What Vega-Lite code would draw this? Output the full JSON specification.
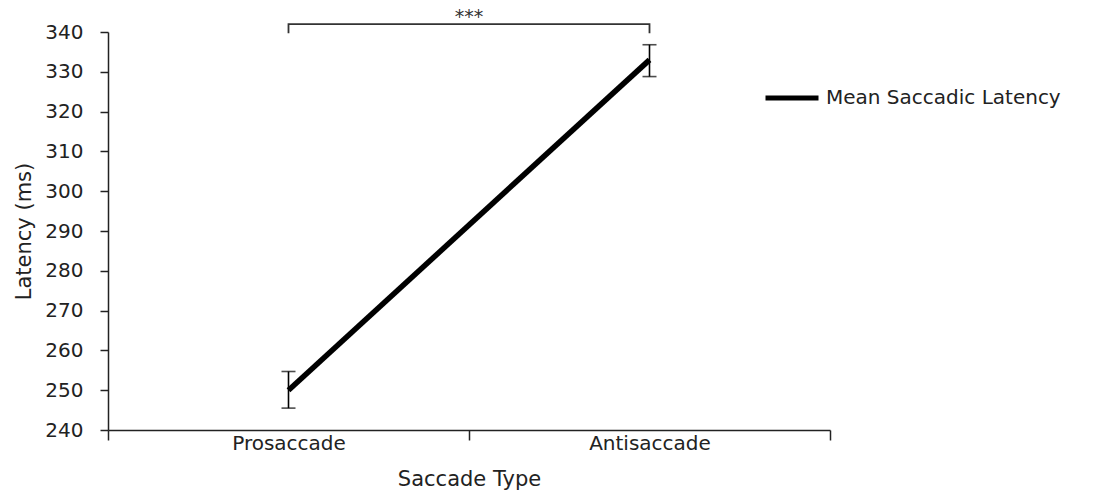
{
  "$schema": "https://vega.github.io/schema/vega-lite/v6.json",
  "width": 722,
  "height": 398,
  "autosize": {"type": "none"},
  "padding": {"left": 108, "top": 32, "right": 268, "bottom": 64},
  "background": "white",
  "title": {"text": "***", "fontSize": 19, "font": "DejaVu Sans", "fontWeight": "normal", "color": "#333", "offset": -7, "anchor": "middle"},
  "config": {
    "view": {"stroke": null},
    "font": "DejaVu Sans",
    "axis": {"domainColor": "#222", "domainWidth": 1.5, "tickColor": "#222", "tickWidth": 1.5, "labelColor": "#222", "titleColor": "#222", "labelFont": "DejaVu Sans", "titleFont": "DejaVu Sans", "labelFontSize": 20, "titleFontSize": 21, "titleFontWeight": "normal", "grid": false}
  },
  "datasets": {
    "means": [
      {"type": "Prosaccade", "mean": 250, "lo": 245.5, "hi": 254.7},
      {"type": "Antisaccade", "mean": 333, "lo": 328.8, "hi": 336.8}
    ],
    "bracket": [
      {"type": "Prosaccade", "v": 339.7, "o": 1},
      {"type": "Prosaccade", "v": 342.0, "o": 2},
      {"type": "Antisaccade", "v": 342.0, "o": 3},
      {"type": "Antisaccade", "v": 339.7, "o": 4}
    ]
  },
  "encoding": {
    "x": {"field": "type", "type": "nominal", "sort": ["Prosaccade", "Antisaccade"], "scale": {"paddingInner": 0, "paddingOuter": 0},
      "axis": {"title": "Saccade Type", "labelAngle": 0, "tickBand": "extent", "tickSize": 10, "labelPadding": -7, "titlePadding": 15, "labelFontSize": 20, "titleFontSize": 21}}
  },
  "layer": [
    {
      "data": {"name": "bracket"},
      "mark": {"type": "line", "color": "#333", "strokeWidth": 1.8, "clip": false},
      "encoding": {
        "y": {"field": "v", "type": "quantitative", "scale": {"domain": [240, 340], "nice": false, "zero": false},
          "axis": {"title": "Latency (ms)", "values": [240,250,260,270,280,290,300,310,320,330,340], "tickSize": 8, "labelPadding": 17, "titlePadding": 10, "labelFontSize": 20, "titleFontSize": 21}},
        "order": {"field": "o"}
      }
    },
    {
      "data": {"name": "means"},
      "mark": {"type": "rule", "color": "#000", "strokeWidth": 1.6},
      "encoding": {
        "y": {"field": "lo", "type": "quantitative", "scale": {"domain": [240, 340], "nice": false, "zero": false},
          "axis": {"title": "Latency (ms)", "values": [240,250,260,270,280,290,300,310,320,330,340], "tickSize": 8, "labelPadding": 17, "titlePadding": 10, "labelFontSize": 20, "titleFontSize": 21}},
        "y2": {"field": "hi"}
      }
    },
    {
      "data": {"name": "means"},
      "mark": {"type": "tick", "color": "#000", "thickness": 1.6, "size": 14},
      "encoding": {"y": {"field": "lo", "type": "quantitative", "scale": {"domain": [240, 340], "nice": false, "zero": false},
          "axis": {"title": "Latency (ms)", "values": [240,250,260,270,280,290,300,310,320,330,340], "tickSize": 8, "labelPadding": 17, "titlePadding": 10, "labelFontSize": 20, "titleFontSize": 21}}}
    },
    {
      "data": {"name": "means"},
      "mark": {"type": "tick", "color": "#000", "thickness": 1.6, "size": 14},
      "encoding": {"y": {"field": "hi", "type": "quantitative", "scale": {"domain": [240, 340], "nice": false, "zero": false},
          "axis": {"title": "Latency (ms)", "values": [240,250,260,270,280,290,300,310,320,330,340], "tickSize": 8, "labelPadding": 17, "titlePadding": 10, "labelFontSize": 20, "titleFontSize": 21}}}
    },
    {
      "data": {"name": "means"},
      "mark": {"type": "line", "strokeWidth": 5.5},
      "encoding": {
        "y": {"field": "mean", "type": "quantitative", "scale": {"domain": [240, 340], "nice": false, "zero": false},
          "axis": {"title": "Latency (ms)", "values": [240,250,260,270,280,290,300,310,320,330,340], "tickSize": 8, "labelPadding": 17, "titlePadding": 10, "labelFontSize": 20, "titleFontSize": 21}},
        "color": {"datum": "Mean Saccadic Latency", "type": "nominal", "scale": {"range": ["#000"]},
          "legend": {"title": null, "orient": "none", "legendX": 655, "legendY": 37, "symbolType": "stroke", "symbolSize": 2809, "symbolStrokeWidth": 5, "labelFontSize": 20, "labelFont": "DejaVu Sans", "labelColor": "#222", "labelOffset": 5, "labelLimit": 400}}
      }
    }
  ]
}
